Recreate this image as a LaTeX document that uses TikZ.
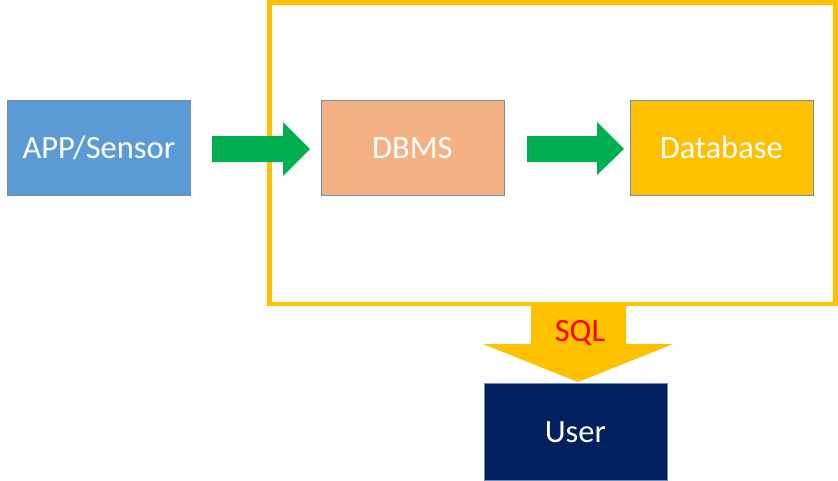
\documentclass[tikz,border=0pt]{standalone}
\usepackage{fontspec}
\setmainfont{Carlito}
\definecolor{appblue}{HTML}{5B9BD5}
\definecolor{dbmsorange}{HTML}{F4B183}
\definecolor{dbyellow}{HTML}{FFC000}
\definecolor{usernavy}{HTML}{002060}
\definecolor{arrowgreen}{HTML}{00B050}
\definecolor{boxedge}{HTML}{6E8FB0}
\begin{document}
\begin{tikzpicture}[x=1pt,y=-1pt,
  blockbox/.style={draw=boxedge,line width=0.6pt,minimum width=183pt,minimum height=95pt,inner sep=0pt,text=white,font=\fontsize{32.5}{36}\selectfont,anchor=north west},
  greenarrow/.style={fill=arrowgreen,draw=none},
  framebox/.style={draw=dbyellow,line width=4.5pt}]
\useasboundingbox (0,0) rectangle (838,480);
% frame
\draw[framebox] (269.5,2.5) rectangle (835.5,304);
% boxes
\node[blockbox,fill=appblue] (app) at (7,100) {APP/Sensor};
\node[blockbox,fill=dbmsorange] (dbms) at (320.5,100) {DBMS};
\node[blockbox,fill=dbyellow] (db) at (629.5,100) {Database};
\node[blockbox,fill=usernavy,minimum height=97pt,draw=boxedge] (user) at (483.5,383) {User};
% green arrows
\fill[greenarrow] (212,136) -- (283,136) -- (283,122) -- (310,149) -- (283,176) -- (283,162) -- (212,162) -- cycle;
\fill[greenarrow] (527,136) -- (597,136) -- (597,122) -- (624,149) -- (597,175) -- (597,162) -- (527,162) -- cycle;
% SQL arrow
\fill[dbyellow] (531,306) -- (626,306) -- (626,344) -- (673,344) -- (578,382) -- (483,344) -- (531,344) -- cycle;
\node[text=red,font=\fontsize{32.5}{36}\selectfont] (sql) at (580,333) {SQL};
\end{tikzpicture}
\end{document}
